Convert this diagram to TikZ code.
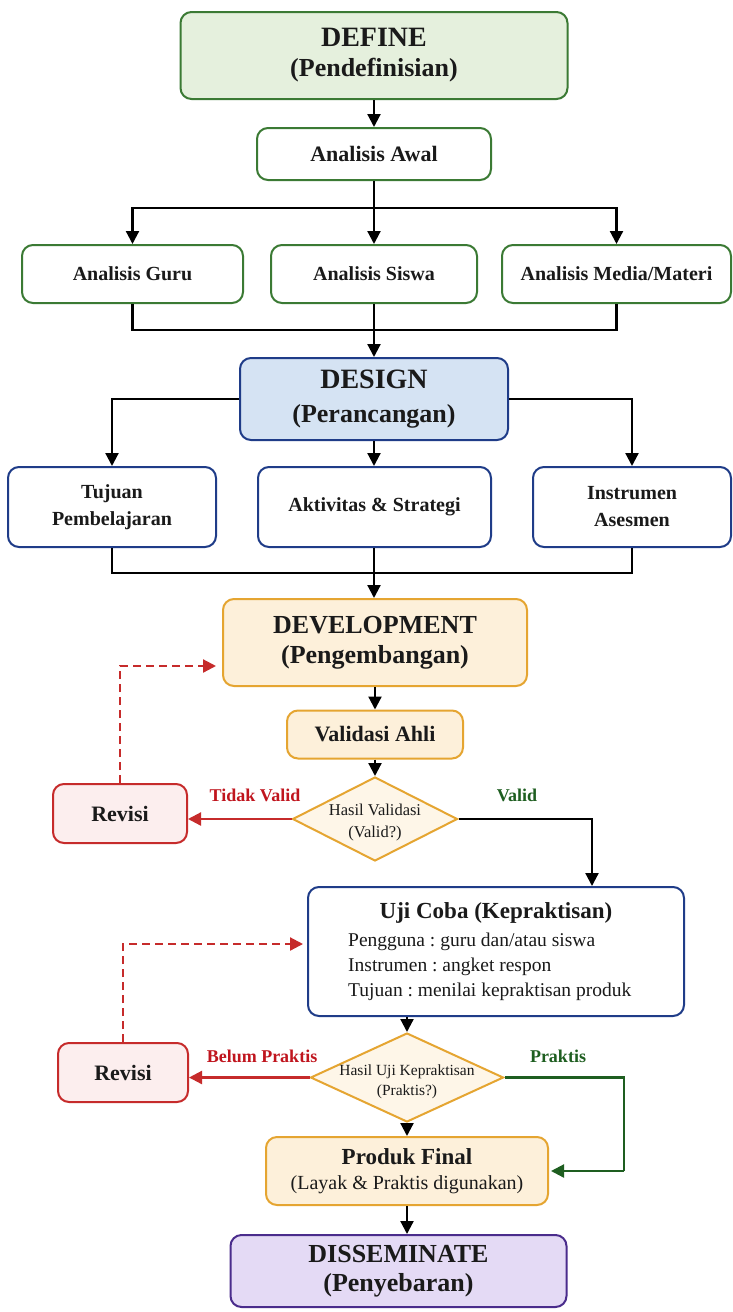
\documentclass[tikz,border=0pt]{standalone}
\usepackage{fontspec}
\setmainfont{Liberation Serif}
\usetikzlibrary{arrows.meta,shapes.geometric,calc}
\definecolor{greenB}{HTML}{3B7A34}
\definecolor{greenF}{HTML}{E5F0DD}
\definecolor{blueB}{HTML}{1F3C88}
\definecolor{blueF}{HTML}{D5E3F3}
\definecolor{orangeB}{HTML}{E5A531}
\definecolor{orangeF}{HTML}{FDF0DA}
\definecolor{diaF}{HTML}{FEF6E8}
\definecolor{redB}{HTML}{C62B2B}
\definecolor{redF}{HTML}{FCEEEE}
\definecolor{purpleB}{HTML}{4A2C8C}
\definecolor{purpleF}{HTML}{E4DAF5}
\definecolor{lblRed}{HTML}{C0151E}
\definecolor{lblGreen}{HTML}{1E5E20}
\definecolor{txt}{HTML}{1A1A1A}
\frenchspacing
\begin{document}
\begin{tikzpicture}[x=1pt,y=-1pt,
  box/.style={draw, line width=2pt, rounded corners=11pt, align=center, inner sep=0pt, text=txt},
  gbox/.style={box, draw=greenB, fill=greenF},
  gwbox/.style={box, draw=greenB, fill=white},
  bbox/.style={box, draw=blueB, fill=blueF},
  bwbox/.style={box, draw=blueB, fill=white},
  obox/.style={box, draw=orangeB, fill=orangeF},
  rbox/.style={box, draw=redB, fill=redF},
  pbox/.style={box, draw=purpleB, fill=purpleF},
  dia/.style={diamond, draw=orangeB, fill=diaF, line width=2pt, inner sep=0pt},
  hd/.style={font=\fontsize{26}{30}\selectfont\bfseries},
  sub/.style={font=\fontsize{20}{27}\selectfont\bfseries},
  mid/.style={font=\fontsize{22}{26}\selectfont\bfseries},
  body/.style={font=\fontsize{19.5}{24}\selectfont, text=txt, inner sep=0pt},
  lbl/.style={font=\fontsize{18}{22}\selectfont\bfseries, inner sep=0pt},
  conn/.style={line width=2.2pt, draw=black},
  tip/.style={-{Triangle[length=13pt,width=13pt]}},
  arr/.style={conn, tip},
  rarr/.style={line width=2.2pt, draw=redB, tip},
  garr/.style={line width=2.2pt, draw=lblGreen, tip},
  darr/.style={line width=2.2pt, draw=redB, dash pattern=on 8pt off 5pt, tip},
]
\useasboundingbox (0,0) rectangle (732,1312);
\fill[white] (0,0) rectangle (732,1312);

% DEFINE
\node[gbox, minimum width=387pt, minimum height=87pt, font=\fontsize{26}{30}\selectfont\bfseries] (define) at (374,55.5) {{\fontsize{28}{30}\selectfont DEFINE}\\(Pendefinisian)};
\node[gwbox, mid, minimum width=234pt, minimum height=52pt] (awal) at (374,154) {Analisis Awal};
\node[gwbox, sub, minimum width=221pt, minimum height=58pt] (guru) at (132.5,274) {Analisis Guru};
\node[gwbox, sub, minimum width=206pt, minimum height=58pt] (siswa) at (374,274) {Analisis Siswa};
\node[gwbox, sub, minimum width=229pt, minimum height=58pt] (media) at (616.5,274) {Analisis Media/Materi};

% DESIGN
\node[bbox, minimum width=268pt, minimum height=82pt, font=\fontsize{26}{34}\selectfont\bfseries] (design) at (374,399) {{\fontsize{28}{34}\selectfont DESIGN}\\(Perancangan)};
\node[bwbox, sub, minimum width=208pt, minimum height=80pt] (tujuan) at (112,507) {Tujuan\\Pembelajaran};
\node[bwbox, sub, minimum width=233pt, minimum height=80pt] (aktiv) at (374.5,507) {Aktivitas \& Strategi};
\node[bwbox, sub, minimum width=198pt, minimum height=80pt] (instr) at (632,507) {Instrumen\\Asesmen};

% DEVELOPMENT
\node[obox, hd, minimum width=304pt, minimum height=87pt] (dev) at (375,642.5) {DEVELOPMENT\\(Pengembangan)};
\node[obox, mid, minimum width=176pt, minimum height=48pt] (valid) at (375,734.5) {Validasi Ahli};
\node[dia, minimum width=165pt, minimum height=84pt] (dia1) at (375,819) {};
\node[font=\fontsize{16.5}{22}\selectfont, align=center, text=txt, inner sep=0pt] (d1t) at (375,823) {Hasil Validasi\\(Valid?)};
\node[rbox, mid, minimum width=134pt, minimum height=59pt] (rev1) at (120,813.5) {Revisi};
\node[lbl, text=lblRed] (ltv) at (255,795) {Tidak Valid};
\node[lbl, text=lblGreen] (lv) at (517,795) {Valid};

% Uji coba
\node[bwbox, minimum width=376pt, minimum height=129pt] (uji) at (496,951.5) {};
\node[font=\fontsize{23}{26}\selectfont\bfseries, text=txt, inner sep=0pt] (ujit) at (496,913) {Uji Coba (Kepraktisan)};
\node[body, anchor=west] (u1) at (348,942) {Pengguna : guru dan/atau siswa};
\node[body, anchor=west] (u2) at (348,967) {Instrumen : angket respon};
\node[body, anchor=west] (u3) at (348,992) {Tujuan : menilai kepraktisan produk};

\node[dia, minimum width=193pt, minimum height=89pt] (dia2) at (407,1077.5) {};
\node[font=\fontsize{15.5}{20}\selectfont, align=center, text=txt, inner sep=0pt] (d2t) at (407,1082) {Hasil Uji Kepraktisan\\(Praktis?)};
\node[rbox, mid, minimum width=130pt, minimum height=59pt] (rev2) at (123,1072.5) {Revisi};
\node[lbl, text=lblRed] (lbp) at (262,1056) {Belum Praktis};
\node[lbl, text=lblGreen] (lp) at (558,1056) {Praktis};

\node[obox, minimum width=282pt, minimum height=68pt, font=\fontsize{20}{25}\selectfont] (produk) at (407,1171) {{\fontsize{23}{25}\selectfont\bfseries Produk Final}\\(Layak \& Praktis digunakan)};
\node[pbox, minimum width=336pt, minimum height=72pt, font=\fontsize{26}{29}\selectfont\bfseries] (dissem) at (398.5,1271) {DISSEMINATE\\(Penyebaran)};

% junctions
\coordinate (j1) at (374,208);
\coordinate (j2) at (374,330);
\coordinate (j3) at (374,573);
\coordinate (g2) at (624,1171);

% connectors
\draw[arr] (define.south) -- (awal.north);
\draw[conn] (awal.south) -- (j1);
\draw[arr] (j1) -| (guru.north);
\draw[arr] (j1) -- (siswa.north);
\draw[arr] (j1) -| (media.north);
\draw[conn] (guru.south) |- (j2);
\draw[conn] (media.south) |- (j2);
\draw[arr] (siswa.south) -- (design.north);

\draw[arr] (design.west) -| (tujuan.north);
\draw[arr] (design.south) -- (design.south |- aktiv.north);
\draw[arr] (design.east) -| (instr.north);
\draw[conn] (tujuan.south) |- (j3);
\draw[conn] (instr.south) |- (j3);
\draw[arr] (aktiv.south -| j3) -- (j3 |- dev.north);

\draw[arr] (dev.south) -- (valid.north);
\draw[arr] (valid.south) -- (dia1.north);
\draw[rarr] (dia1.west) -- (dia1.west -| rev1.east);
\draw[darr] (rev1.north) |- ([xshift=-6pt,yshift=-23.5pt]dev.west);
\draw[arr] (dia1.east) -| ([xshift=96pt]uji.north);

\draw[arr] (dia2.north |- uji.south) -- (dia2.north);
\draw[rarr] (dia2.west) -- (dia2.west -| rev2.east);
\draw[darr] (rev2.north) |- ([xshift=-4pt,yshift=7.5pt]uji.west);
\draw[line width=2.2pt, draw=lblGreen] (dia2.east) -| (g2);
\draw[garr] (g2) -- ([xshift=2pt]produk.east);
\draw[arr] (dia2.south) -- (produk.north);
\draw[arr] (produk.south) -- (produk.south |- dissem.north);
\end{tikzpicture}
\end{document}
